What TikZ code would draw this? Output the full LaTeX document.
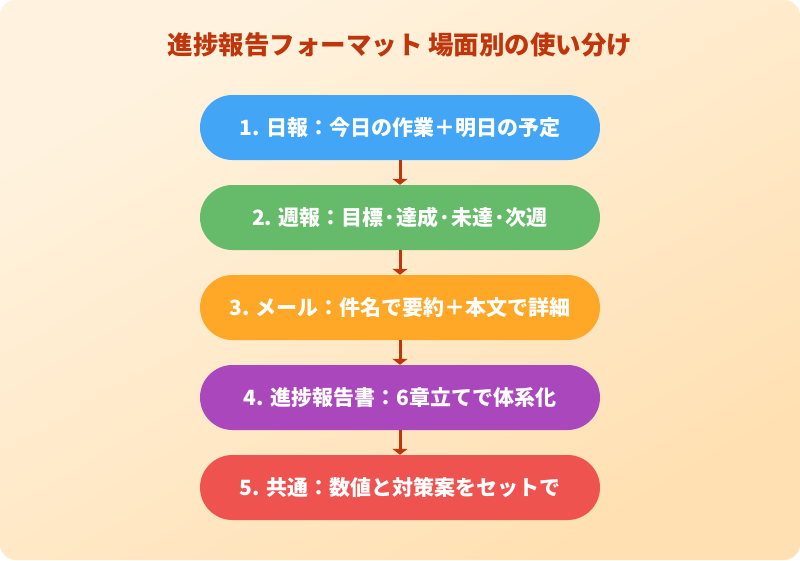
\documentclass[tikz,border=0pt]{standalone}
\usepackage{fontspec}
\newfontfamily\jp{Noto Sans CJK JP}
\usetikzlibrary{arrows.meta}
\definecolor{bgA}{HTML}{FFF3E0}
\definecolor{bgB}{HTML}{FFE0B2}
\definecolor{ttl}{HTML}{BF360C}
\definecolor{arr}{HTML}{BF360C}
\definecolor{cA}{HTML}{42A5F5}
\definecolor{cB}{HTML}{66BB6A}
\definecolor{cC}{HTML}{FFA726}
\definecolor{cD}{HTML}{AB47BC}
\definecolor{cE}{HTML}{EF5350}
\tikzset{
  pill/.style={rectangle, rounded corners=32.5pt, minimum width=400pt, minimum height=65pt,
    inner sep=0pt, text=white, font=\jp\bfseries\fontsize{21}{25}\selectfont},
  conn/.style={draw=arr, line width=3pt, -{Triangle[width=15pt,length=6pt]}, shorten >=0pt}
}
\begin{document}
\begin{tikzpicture}[x=1pt,y=-1pt]
\useasboundingbox (0,0) rectangle (800,560);
\shade[top color=bgA, bottom color=bgB, shading angle=30, rounded corners=16pt] (0,0) rectangle (800,560);
\node[font=\jp\bfseries\fontsize{25.5}{30}\selectfont, text=ttl] (title) at (400,45) {進捗報告フォーマット 場面別の使い分け};
\node[pill, fill=cA] (n1) at (400,127.5) {1. 日報：今日の作業＋明日の予定};
\node[pill, fill=cB] (n2) at (400,217.5) {2. 週報：目標·達成·未達·次週};
\node[pill, fill=cC] (n3) at (400,307.5) {3. メール：件名で要約＋本文で詳細};
\node[pill, fill=cD] (n4) at (400,397.5) {4. 進捗報告書：6章立てで体系化};
\node[pill, fill=cE] (n5) at (400,487.5) {5. 共通：数値と対策案をセットで};
\draw[conn] (n1) -- (n2);
\draw[conn] (n2) -- (n3);
\draw[conn] (n3) -- (n4);
\draw[conn] (n4) -- (n5);
\end{tikzpicture}
\end{document}
